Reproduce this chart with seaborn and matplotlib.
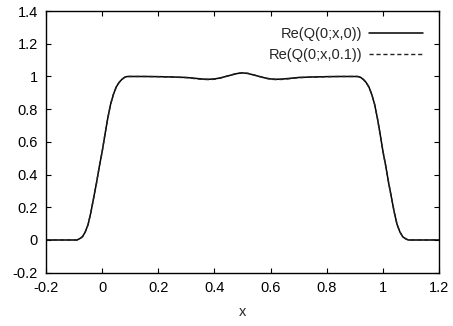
import numpy as np
import pandas as pd
import seaborn as sns
import matplotlib
matplotlib.use("Agg")
import matplotlib.pyplot as plt

# x grid
x_vals = [-0.2, -0.15, -0.1, -0.09, -0.08, -0.07, -0.06, -0.05, -0.04, -0.03, -0.02, -0.01,
          0.0, 0.01, 0.02, 0.03, 0.04, 0.05, 0.06, 0.07, 0.08, 0.09, 0.1, 0.15, 0.2, 0.25,
          0.3, 0.33, 0.36, 0.38, 0.4, 0.42, 0.44, 0.46, 0.48, 0.5, 0.52, 0.54, 0.56, 0.58,
          0.6, 0.62, 0.64, 0.67, 0.7, 0.75, 0.8, 0.85, 0.9, 0.91, 0.92, 0.93, 0.94, 0.95,
          0.96, 0.97, 0.98, 0.99, 1.0, 1.01, 1.02, 1.03, 1.04, 1.05, 1.06, 1.07, 1.08, 1.09,
          1.1, 1.15, 1.2]

# Re(Q(0;x,0))
q_t0 = [0.0, 0.0, 0.0, 0.0, 0.008, 0.02, 0.05, 0.095, 0.17, 0.26, 0.35, 0.45,
        0.54, 0.645, 0.745, 0.83, 0.89, 0.935, 0.963, 0.982, 0.995, 1.0, 1.0, 1.0, 0.999, 0.997,
        0.994, 0.989, 0.984, 0.983, 0.985, 0.991, 1.0, 1.009, 1.018, 1.022, 1.018, 1.009, 1.0, 0.991,
        0.985, 0.983, 0.984, 0.989, 0.994, 0.997, 0.999, 1.0, 1.0, 1.0, 0.995, 0.982, 0.963, 0.935,
        0.89, 0.83, 0.745, 0.645, 0.54, 0.45, 0.35, 0.26, 0.17, 0.095, 0.05, 0.02, 0.008, 0.0,
        0.0, 0.0, 0.0]

# Re(Q(0;x,0.1))
q_t01 = [0.0, 0.0, 0.0, 0.0, 0.008, 0.02, 0.05, 0.095, 0.17, 0.26, 0.35, 0.45,
         0.54, 0.645, 0.745, 0.83, 0.89, 0.935, 0.963, 0.982, 0.995, 1.0, 1.0, 1.0, 0.999, 0.996,
         0.993, 0.987, 0.982, 0.981, 0.983, 0.990, 1.0, 1.010, 1.019, 1.023, 1.019, 1.010, 1.0, 0.990,
         0.983, 0.981, 0.982, 0.987, 0.993, 0.996, 0.999, 1.0, 1.0, 1.0, 0.995, 0.982, 0.963, 0.935,
         0.89, 0.83, 0.745, 0.645, 0.54, 0.45, 0.35, 0.26, 0.17, 0.095, 0.05, 0.02, 0.008, 0.0,
         0.0, 0.0, 0.0]

labels = ["Re(Q(0;x,0))", "Re(Q(0;x,0.1))"]
x_ticks = [-0.2, 0, 0.2, 0.4, 0.6, 0.8, 1, 1.2]
y_ticks = [-0.2, 0, 0.2, 0.4, 0.6, 0.8, 1, 1.2, 1.4]

sns.set_style("ticks")
plt.rcParams['font.family'] = ['Liberation Sans', 'DejaVu Sans']
plt.rcParams['font.size'] = 10.5

fig = plt.figure(figsize=(4.53, 3.26), dpi=100)
ax = fig.add_axes([0.1015, 0.1635, 0.868, 0.8025])

sns.lineplot(x=x_vals, y=q_t0, ax=ax, color="black", linewidth=1.1, label=labels[0])
sns.lineplot(x=x_vals, y=q_t01, ax=ax, color="#222222", linewidth=1.0,
             linestyle=(0, (3.0, 2.0)), label=labels[1])

ax.set_xlim(-0.2, 1.2)
ax.set_ylim(-0.2, 1.4)
ax.set_xticks(x_ticks)
ax.set_yticks(y_ticks)
ax.set_xticklabels([f"{t:g}" for t in x_ticks])
ax.set_yticklabels([f"{t:g}" for t in y_ticks])
ax.tick_params(direction="in", length=3.6, width=0.8, top=True, right=True,
               colors="black", labelsize=10.5)
ax.tick_params(axis="x", pad=6)
ax.tick_params(axis="y", pad=6)
for s in ax.spines.values():
    s.set_visible(True)
    s.set_color("black")
    s.set_linewidth(1.0)

ax.set_xlabel("x", fontsize=10.5, labelpad=7)
ax.set_ylabel("")

ax.legend(loc="upper right", frameon=False, markerfirst=False, handlelength=3.7,
          labelspacing=0.45, handletextpad=0.5, borderaxespad=0.7, fontsize=10.5)

fig.savefig("out.png", dpi=100)
